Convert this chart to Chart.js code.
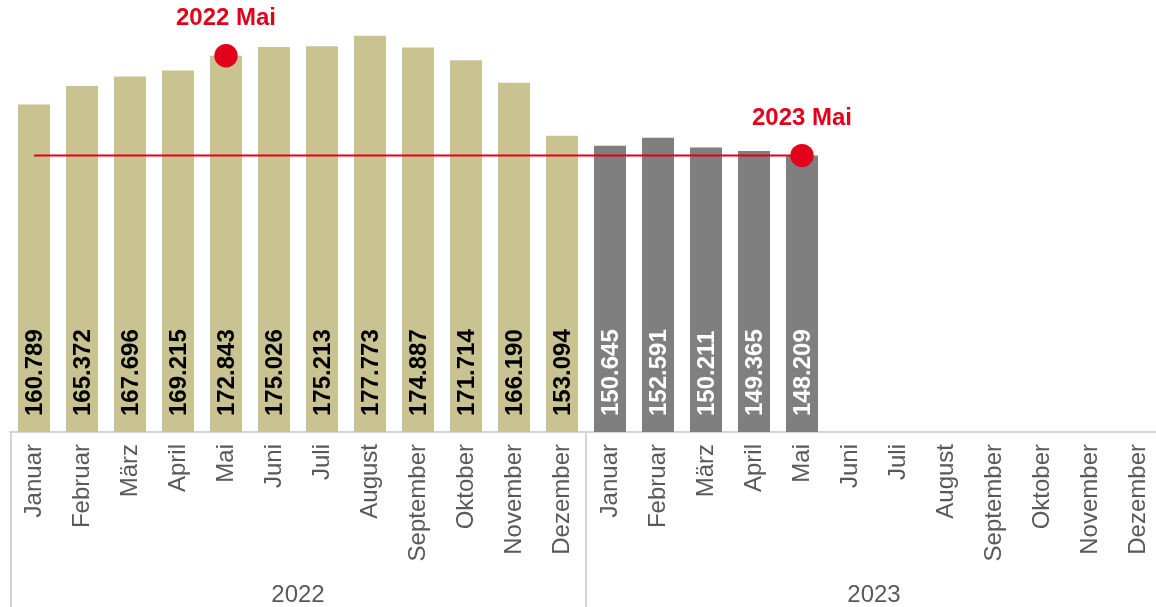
<!DOCTYPE html>
<html>
<head>
<meta charset="utf-8">
<script src="https://cdn.jsdelivr.net/npm/chart.js@4/dist/chart.umd.min.js"></script>
<style>
  html, body { margin: 0; padding: 0; background: #ffffff; overflow: hidden; }
  #wrap { width: 1162px; height: 607px; position: relative; }
</style>
</head>
<body>
<div id="wrap"><canvas id="c" width="1162" height="607"></canvas></div>
<script>
const months = ["Januar","Februar","März","April","Mai","Juni","Juli","August","September","Oktober","November","Dezember"];
const years = ["2022", "2023"];
const values2022 = [160.789, 165.372, 167.696, 169.215, 172.843, 175.026, 175.213, 177.773, 174.887, 171.714, 166.190, 153.094];
const values2023 = [150.645, 152.591, 150.211, 149.365, 148.209];
const highlightMonth = "Mai";

const labels = months.concat(months);
const barData = labels.map((m, i) => i < 12 ? values2022[i] : (i - 12 < values2023.length ? values2023[i - 12] : null));
const barColors = labels.map((m, i) => i < 12 ? '#c9c392' : '#7f7f7f');
const hiIdx = [months.indexOf(highlightMonth), 12 + months.indexOf(highlightMonth)];
const dotData = labels.map((m, i) => hiIdx.includes(i) ? barData[i] : null);
const refValue = values2023[months.indexOf(highlightMonth)];
const refData = labels.map((m, i) => (i === 0 || i === hiIdx[1]) ? refValue : null);
const dotLabels = {};
dotLabels[hiIdx[0]] = years[0] + ' ' + highlightMonth;
dotLabels[hiIdx[1]] = years[1] + ' ' + highlightMonth;

const RED = '#e2001a';
const FONT = '"Liberation Sans", Arial, sans-serif';

const decor = {
  id: 'decor',
  afterDatasetsDraw(chart) {
    const ctx = chart.ctx;
    const area = chart.chartArea;
    const meta = chart.getDatasetMeta(0);
    ctx.save();
    ctx.font = 'bold 24px ' + FONT;
    ctx.textAlign = 'left';
    ctx.textBaseline = 'middle';
    meta.data.forEach((bar, i) => {
      const v = barData[i];
      if (v == null) return;
      ctx.save();
      ctx.translate(bar.x, area.bottom - 16);
      ctx.rotate(-Math.PI / 2);
      ctx.fillStyle = i < 12 ? '#000000' : '#ffffff';
      ctx.fillText(v.toFixed(3), 0, 1);
      ctx.restore();
    });
    ctx.restore();
    const dmeta = chart.getDatasetMeta(2);
    ctx.save();
    ctx.font = 'bold 24px ' + FONT;
    ctx.fillStyle = RED;
    ctx.textAlign = 'center';
    ctx.textBaseline = 'middle';
    dmeta.data.forEach((pt, i) => {
      if (dotLabels[i]) ctx.fillText(dotLabels[i], pt.x, pt.y - 37);
    });
    ctx.restore();
  },
  afterDraw(chart) {
    const ctx = chart.ctx;
    const x = chart.scales.x;
    const area = chart.chartArea;
    const H = chart.height;
    ctx.save();
    ctx.strokeStyle = '#d4d4d4';
    ctx.lineWidth = 2;
    const left = area.left + 1;
    const sep = (x.getPixelForValue(11) + x.getPixelForValue(12)) / 2;
    ctx.beginPath();
    ctx.moveTo(left, area.bottom); ctx.lineTo(left, H);
    ctx.moveTo(sep, area.bottom); ctx.lineTo(sep, H);
    ctx.stroke();
    ctx.font = '24px ' + FONT;
    ctx.fillStyle = '#595959';
    ctx.textAlign = 'center';
    ctx.textBaseline = 'middle';
    years.forEach((y, k) => {
      const cx = (x.getPixelForValue(k * 12) + x.getPixelForValue(k * 12 + 11)) / 2;
      ctx.fillText(y, cx, 595);
    });
    ctx.restore();
  }
};

new Chart(document.getElementById('c'), {
  type: 'bar',
  data: {
    labels: labels,
    datasets: [
      {
        type: 'bar',
        data: barData,
        backgroundColor: barColors,
        borderWidth: 0,
        categoryPercentage: 1,
        barPercentage: 0.667,
        order: 3
      },
      {
        type: 'line',
        data: refData,
        borderColor: RED,
        borderWidth: 2,
        pointRadius: 0,
        spanGaps: true,
        fill: false,
        order: 2
      },
      {
        type: 'line',
        data: dotData,
        showLine: false,
        pointRadius: 11.7,
        pointBackgroundColor: RED,
        pointBorderWidth: 0,
        order: 1
      }
    ]
  },
  options: {
    responsive: false,
    animation: false,
    devicePixelRatio: 1,
    layout: { autoPadding: false, padding: { left: 10, right: 0, top: 0, bottom: 0 } },
    plugins: { legend: { display: false }, tooltip: { enabled: false } },
    scales: {
      y: {
        display: false, min: 80, max: 186.6,
        afterFit(scale) { scale.paddingTop = 0; scale.paddingBottom = 0; }
      },
      x: {
        offset: true,
        grid: { display: false, drawTicks: false },
        border: { display: true, color: '#d4d4d4', width: 2 },
        ticks: {
          minRotation: 90, maxRotation: 90, autoSkip: false,
          padding: 12,
          color: '#595959',
          font: { family: FONT, size: 24 }
        },
        afterFit(scale) { scale.height = 175; scale.paddingLeft = 0; scale.paddingRight = 0; }
      }
    }
  },
  plugins: [decor]
});
</script>
</body>
</html>
